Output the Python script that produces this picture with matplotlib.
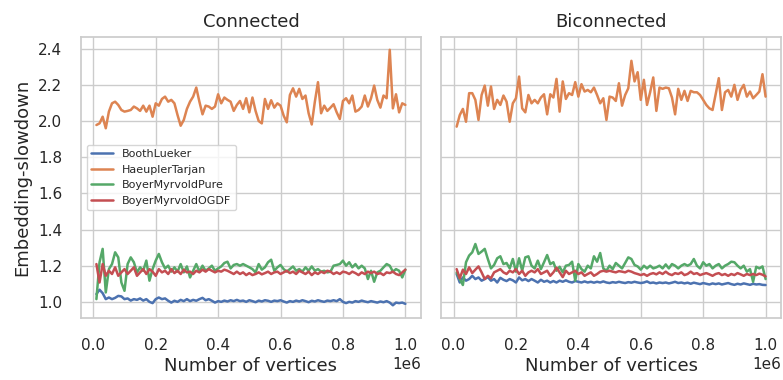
import matplotlib
matplotlib.use("Agg")
import matplotlib.pyplot as plt
import seaborn as sns

# vertex counts of the sampled graphs
vertices = list(range(10000, 1000001, 10000))

booth_conn = [
    1.043, 1.067, 1.048, 1.015, 1.024, 1.015, 1.022, 1.033, 1.030, 1.015,
    1.019, 1.007, 1.015, 1.011, 1.019, 1.007, 1.015, 1.000, 0.993, 1.015,
    1.024, 1.015, 1.019, 1.006, 0.996, 1.006, 1.000, 1.011, 1.004, 1.015,
    1.004, 1.011, 1.006, 1.015, 1.022, 1.009, 1.015, 1.006, 0.996, 1.004,
    1.000, 1.007, 1.002, 1.009, 1.004, 1.011, 1.004, 1.007, 1.000, 1.009,
    1.004, 0.998, 1.007, 1.002, 1.009, 1.006, 1.000, 1.007, 1.004, 1.009,
    1.002, 0.996, 1.004, 1.000, 1.007, 1.002, 1.009, 1.004, 0.998, 1.006,
    1.002, 1.009, 1.004, 1.000, 1.007, 1.004, 1.009, 1.004, 1.015, 1.000,
    0.993, 1.000, 0.996, 1.004, 1.000, 1.007, 1.002, 0.998, 1.004, 1.000,
    0.996, 1.002, 0.998, 1.004, 0.996, 0.981, 0.996, 0.993, 0.996, 0.989,
]
haeupler_conn = [
    1.978, 1.987, 2.024, 1.960, 2.052, 2.098, 2.107, 2.089, 2.061, 2.052,
    2.056, 2.061, 2.080, 2.070, 2.056, 2.085, 2.052, 2.085, 2.024, 2.098,
    2.085, 2.122, 2.135, 2.107, 2.117, 2.098, 2.033, 1.974, 2.006, 2.067,
    2.107, 2.135, 2.185, 2.107, 2.037, 2.085, 2.080, 2.067, 2.080, 2.148,
    2.098, 2.130, 2.117, 2.107, 2.056, 2.089, 2.111, 2.067, 2.126, 2.048,
    2.130, 2.056, 2.000, 1.987, 2.122, 2.067, 2.115, 2.074, 2.098, 2.085,
    2.030, 1.993, 2.144, 2.181, 2.135, 2.178, 2.122, 2.141, 2.043, 1.981,
    2.107, 2.215, 2.043, 2.085, 2.056, 2.074, 2.093, 2.048, 2.011, 2.111,
    2.126, 2.098, 2.141, 2.052, 2.061, 2.080, 2.141, 2.080, 2.126, 2.196,
    2.117, 2.074, 2.141, 2.126, 2.394, 2.070, 2.148, 2.048, 2.098, 2.089,
]
bm_pure_conn = [
    1.015, 1.219, 1.293, 1.052, 1.181, 1.209, 1.274, 1.246, 1.107, 1.061,
    1.209, 1.246, 1.219, 1.163, 1.191, 1.172, 1.228, 1.117, 1.181, 1.228,
    1.265, 1.219, 1.185, 1.200, 1.167, 1.191, 1.167, 1.209, 1.163, 1.196,
    1.135, 1.172, 1.209, 1.167, 1.200, 1.172, 1.185, 1.200, 1.172, 1.185,
    1.196, 1.215, 1.222, 1.185, 1.204, 1.209, 1.200, 1.209, 1.200, 1.191,
    1.181, 1.163, 1.209, 1.178, 1.191, 1.219, 1.233, 1.172, 1.191, 1.204,
    1.181, 1.167, 1.181, 1.196, 1.172, 1.181, 1.167, 1.191, 1.172, 1.196,
    1.172, 1.181, 1.167, 1.172, 1.163, 1.167, 1.200, 1.204, 1.209, 1.228,
    1.200, 1.219, 1.191, 1.209, 1.185, 1.200, 1.185, 1.126, 1.172, 1.111,
    1.163, 1.172, 1.191, 1.209, 1.200, 1.167, 1.181, 1.172, 1.135, 1.178,
]
bm_ogdf_conn = [
    1.209, 1.107, 1.209, 1.144, 1.172, 1.154, 1.191, 1.144, 1.163, 1.181,
    1.154, 1.172, 1.191, 1.144, 1.163, 1.181, 1.154, 1.181, 1.167, 1.144,
    1.181, 1.163, 1.172, 1.154, 1.181, 1.159, 1.172, 1.154, 1.178, 1.163,
    1.167, 1.154, 1.172, 1.163, 1.178, 1.167, 1.181, 1.172, 1.163, 1.172,
    1.167, 1.178, 1.172, 1.163, 1.154, 1.167, 1.154, 1.163, 1.148, 1.159,
    1.148, 1.154, 1.163, 1.152, 1.159, 1.167, 1.154, 1.163, 1.167, 1.154,
    1.163, 1.172, 1.159, 1.167, 1.154, 1.172, 1.163, 1.154, 1.167, 1.148,
    1.163, 1.154, 1.167, 1.159, 1.172, 1.167, 1.154, 1.163, 1.154, 1.167,
    1.163, 1.154, 1.167, 1.159, 1.148, 1.163, 1.154, 1.167, 1.159, 1.167,
    1.154, 1.159, 1.148, 1.163, 1.159, 1.167, 1.154, 1.148, 1.163, 1.178,
]

booth_bicon = [
    1.154, 1.107, 1.135, 1.117, 1.126, 1.144, 1.126, 1.135, 1.117, 1.126,
    1.137, 1.117, 1.126, 1.107, 1.133, 1.122, 1.115, 1.126, 1.119, 1.107,
    1.135, 1.119, 1.126, 1.115, 1.126, 1.117, 1.107, 1.122, 1.111, 1.117,
    1.107, 1.115, 1.107, 1.117, 1.111, 1.119, 1.111, 1.107, 1.115, 1.111,
    1.107, 1.113, 1.107, 1.111, 1.106, 1.111, 1.107, 1.113, 1.107, 1.104,
    1.109, 1.106, 1.111, 1.107, 1.104, 1.109, 1.106, 1.111, 1.107, 1.104,
    1.107, 1.113, 1.104, 1.107, 1.102, 1.107, 1.104, 1.107, 1.102, 1.106,
    1.111, 1.104, 1.107, 1.102, 1.106, 1.100, 1.106, 1.102, 1.098, 1.104,
    1.100, 1.096, 1.102, 1.098, 1.102, 1.096, 1.100, 1.104, 1.098, 1.094,
    1.100, 1.096, 1.102, 1.098, 1.094, 1.100, 1.096, 1.098, 1.094, 1.093,
]
haeupler_bicon = [
    1.969, 2.033, 2.067, 1.996, 2.154, 2.154, 2.117, 2.006, 2.144, 2.196,
    2.085, 2.191, 2.067, 2.117, 2.089, 2.141, 2.107, 1.996, 2.098, 2.126,
    2.246, 2.070, 2.048, 2.144, 2.098, 2.117, 2.098, 2.130, 2.148, 2.037,
    2.148, 2.130, 2.233, 2.052, 2.219, 2.122, 2.154, 2.144, 2.215, 2.135,
    2.204, 2.163, 2.172, 2.159, 2.185, 2.144, 2.098, 2.126, 2.006, 2.135,
    2.130, 2.111, 2.209, 2.085, 2.144, 2.181, 2.333, 2.219, 2.270, 2.117,
    2.228, 2.089, 2.159, 2.241, 2.056, 2.185, 2.178, 2.185, 2.181, 2.130,
    2.037, 2.178, 2.117, 2.167, 2.111, 2.167, 2.159, 2.159, 2.144, 2.117,
    2.089, 2.070, 2.061, 2.148, 2.237, 2.061, 2.159, 2.172, 2.135, 2.200,
    2.117, 2.172, 2.200, 2.135, 2.163, 2.126, 2.144, 2.163, 2.259, 2.135,
]
bm_pure_bicon = [
    1.163, 1.126, 1.093, 1.219, 1.256, 1.274, 1.320, 1.265, 1.278, 1.293,
    1.237, 1.185, 1.204, 1.241, 1.252, 1.209, 1.215, 1.185, 1.237, 1.167,
    1.241, 1.172, 1.246, 1.252, 1.200, 1.185, 1.228, 1.181, 1.219, 1.259,
    1.209, 1.219, 1.172, 1.194, 1.163, 1.200, 1.204, 1.222, 1.117, 1.209,
    1.181, 1.167, 1.200, 1.185, 1.252, 1.222, 1.270, 1.185, 1.172, 1.200,
    1.181, 1.215, 1.200, 1.185, 1.215, 1.246, 1.237, 1.204, 1.196, 1.178,
    1.200, 1.185, 1.200, 1.185, 1.191, 1.200, 1.185, 1.207, 1.185, 1.209,
    1.200, 1.185, 1.200, 1.209, 1.200, 1.209, 1.237, 1.200, 1.185, 1.219,
    1.200, 1.209, 1.185, 1.200, 1.209, 1.185, 1.200, 1.209, 1.222, 1.219,
    1.200, 1.185, 1.200, 1.167, 1.181, 1.111, 1.194, 1.185, 1.196, 1.126,
]
bm_ogdf_bicon = [
    1.181, 1.130, 1.178, 1.154, 1.191, 1.159, 1.178, 1.196, 1.163, 1.126,
    1.144, 1.130, 1.163, 1.172, 1.181, 1.163, 1.154, 1.172, 1.163, 1.181,
    1.154, 1.172, 1.144, 1.163, 1.172, 1.163, 1.181, 1.154, 1.163, 1.172,
    1.144, 1.163, 1.189, 1.163, 1.137, 1.172, 1.154, 1.163, 1.172, 1.154,
    1.163, 1.144, 1.154, 1.163, 1.144, 1.154, 1.167, 1.172, 1.167, 1.172,
    1.167, 1.163, 1.170, 1.167, 1.163, 1.172, 1.167, 1.159, 1.154, 1.148,
    1.154, 1.144, 1.154, 1.159, 1.152, 1.163, 1.154, 1.167, 1.154, 1.148,
    1.159, 1.154, 1.163, 1.148, 1.154, 1.167, 1.154, 1.159, 1.148, 1.154,
    1.159, 1.152, 1.144, 1.154, 1.159, 1.148, 1.154, 1.144, 1.154, 1.148,
    1.159, 1.152, 1.144, 1.154, 1.148, 1.154, 1.148, 1.156, 1.150, 1.141,
]

algorithms = ["BoothLueker", "HaeuplerTarjan", "BoyerMyrvoldPure", "BoyerMyrvoldOGDF"]
panels = {
    "Connected": [booth_conn, haeupler_conn, bm_pure_conn, bm_ogdf_conn],
    "Biconnected": [booth_bicon, haeupler_bicon, bm_pure_bicon, bm_ogdf_bicon],
}

sns.set_theme(style="whitegrid")
plt.rcParams.update(
    {
        "axes.labelsize": 13,
        "axes.titlesize": 13,
        "xtick.major.pad": 8,
        "ytick.major.pad": 7.5,
    }
)
colors = sns.color_palette("deep")

fig, axes = plt.subplots(1, 2, sharey=True, figsize=(7.83, 3.8))
fig.subplots_adjust(left=0.1034, right=0.9975, top=0.9026, bottom=0.163, wspace=0.06)

for ax, (title, series) in zip(axes, panels.items()):
    for name, values, color in zip(algorithms, series, colors):
        ax.plot(vertices, values, color=color, linewidth=1.8, label=name)
    ax.set_title(title, pad=7.5)
    ax.set_xlabel("Number of vertices", labelpad=3)
    ax.set_xticks([0, 200000, 400000, 600000, 800000, 1000000])

axes[0].set_yticks([1.0, 1.2, 1.4, 1.6, 1.8, 2.0, 2.2, 2.4])
axes[0].set_ylabel("Embedding-slowdown", labelpad=5)
axes[0].legend(loc="center left", fontsize=8)

fig.savefig("out.png", dpi=100)
